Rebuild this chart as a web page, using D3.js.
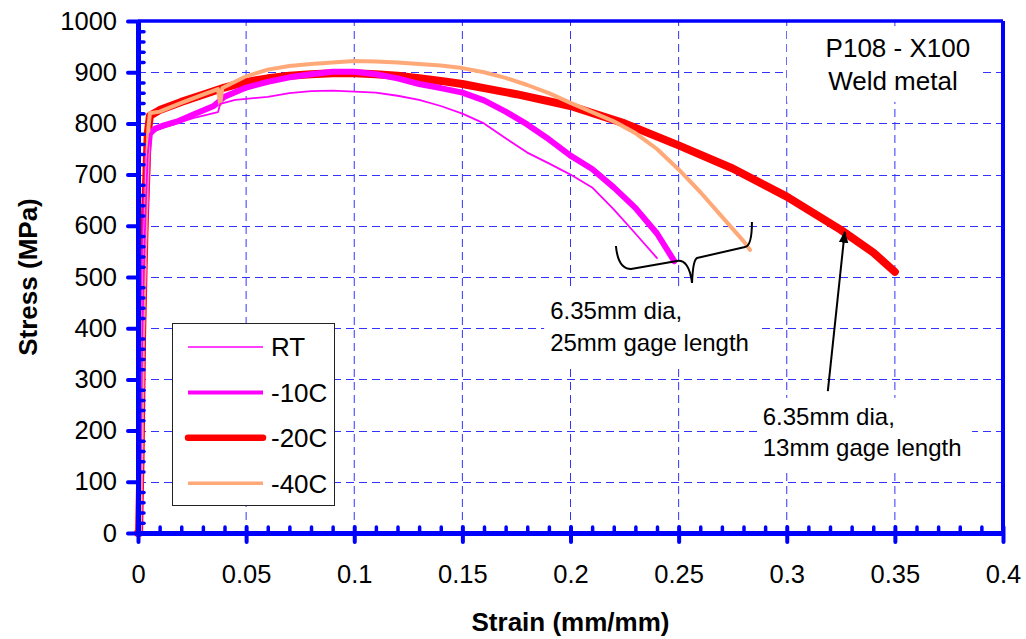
<!DOCTYPE html>
<html><head><meta charset="utf-8">
<script src="https://cdn.jsdelivr.net/npm/d3@7"></script>
<style>body{margin:0;background:#fff}svg{display:block}</style>
</head><body><svg id="c" width="1026" height="639"></svg>
<script>
// ---------- data ----------
const seriesNames = ["RT", "-10C", "-20C", "-40C"];

const rtStrain = [0, 0.0006, 0.0013, 0.002, 0.0032, 0.0045, 0.0055, 0.008, 0.012, 0.02, 0.027, 0.035, 0.037, 0.038, 0.045, 0.05, 0.06, 0.07, 0.08, 0.09, 0.1, 0.11, 0.12, 0.13, 0.14, 0.15, 0.16, 0.17, 0.18, 0.19, 0.2, 0.21, 0.22, 0.23, 0.24];
const rtStress = [0, 0, 150, 390, 590, 740, 780, 786, 792, 803, 812, 820, 822, 838, 846, 848, 852, 859, 863, 864, 862, 860, 854, 846, 834, 819, 800, 771, 743, 722, 700, 675, 632, 585, 537];

const m10Strain = [0, 0.0006, 0.0013, 0.002, 0.0032, 0.0045, 0.0055, 0.008, 0.012, 0.019, 0.027, 0.035, 0.04, 0.05, 0.06, 0.07, 0.08, 0.09, 0.1, 0.11, 0.12, 0.13, 0.14, 0.15, 0.16, 0.17, 0.18, 0.19, 0.2, 0.21, 0.22, 0.23, 0.24, 0.248];
const m10Stress = [0, 0, 150, 390, 590, 740, 780, 790, 796, 805, 820, 834, 852, 870, 881, 890, 896, 901, 901, 896, 888, 877, 869, 860, 845, 823, 798, 769, 737, 711, 675, 635, 585, 531];

const m20Strain = [0, 0.0005, 0.0012, 0.0019, 0.003, 0.0045, 0.0055, 0.01, 0.02, 0.03, 0.04, 0.05, 0.06, 0.07, 0.08, 0.09, 0.1, 0.11, 0.12, 0.13, 0.14, 0.15, 0.16, 0.175, 0.2, 0.225, 0.25, 0.275, 0.3, 0.325, 0.34, 0.35];
const m20Stress = [0, 0, 150, 390, 590, 780, 815, 826, 842, 856, 870, 881, 888, 893, 896, 898, 898, 896, 893, 888, 883, 877, 869, 857, 834, 800, 757, 712, 657, 592, 548, 510];

const m40Strain = [0, 0.0008, 0.0015, 0.0023, 0.0035, 0.0048, 0.0055, 0.01, 0.02, 0.03, 0.037, 0.038, 0.039, 0.05, 0.06, 0.07, 0.08, 0.09, 0.1, 0.11, 0.12, 0.13, 0.14, 0.15, 0.16, 0.17, 0.18, 0.19, 0.2, 0.21, 0.22, 0.23, 0.24, 0.25, 0.26, 0.27, 0.28, 0.283];
const m40Stress = [0, 0, 150, 390, 600, 790, 820, 823, 840, 856, 867, 838, 869, 892, 905, 912, 916, 919, 922, 921, 919, 916, 913, 908, 900, 889, 875, 859, 840, 822, 804, 781, 750, 710, 666, 618, 570, 553];

const xTickVals = [0, 0.05, 0.1, 0.15, 0.2, 0.25, 0.3, 0.35, 0.4];
const xTickLabels = ["0", "0.05", "0.1", "0.15", "0.2", "0.25", "0.3", "0.35", "0.4"];
const yTickVals = [0, 100, 200, 300, 400, 500, 600, 700, 800, 900, 1000];
const yTickLabels = ["0", "100", "200", "300", "400", "500", "600", "700", "800", "900", "1000"];

// annotation anchors (data units)
const braceStrain = [0.2210, 0.2220, 0.2280, 0.2492, 0.2548, 0.2562, 0.2566, 0.2585, 0.2807, 0.2839, 0.2839];
const braceStress = [560.5, 515.6, 515.6, 531.3, 535.2, 488.3, 533.0, 537.1, 558.6, 560.5, 607.4];
const arrowStrain = [0.3190, 0.3268];
const arrowStress = [277, 588];

// ---------- chart ----------
const FONT = "Arial, 'Liberation Sans', sans-serif";
const svg = d3.select("#c").attr("font-family", FONT);
svg.append("rect").attr("width", 1026).attr("height", 639).attr("fill", "#fff");

const x = d3.scaleLinear().domain([0, 0.4]).range([138, 1003]);
const y = d3.scaleLinear().domain([0, 1000]).range([533, 21]);

const gridColor = "#3333ff";
svg.append("g").selectAll("line").data(xTickVals.slice(1, -1)).join("line")
  .attr("x1", d => x(d)).attr("x2", d => x(d)).attr("y1", y(0)).attr("y2", y(1000))
  .attr("stroke", gridColor).attr("stroke-width", 1).attr("stroke-dasharray", "8,5");
svg.append("g").selectAll("line").data(yTickVals.slice(1, -1)).join("line")
  .attr("x1", x(0)).attr("x2", x(0.4)).attr("y1", d => Math.round(y(d)) + 0.5).attr("y2", d => Math.round(y(d)) + 0.5)
  .attr("stroke", gridColor).attr("stroke-width", 1).attr("stroke-dasharray", "8,5");

// white annotation boxes (cover grid)
const boxes = [
  [0.1878, 0.2863, 478, 328],
  [0.2863, 0.3857, 264, 123],
  [0.3001, 0.3907, 988, 842]
];
svg.append("g").selectAll("rect").data(boxes).join("rect")
  .attr("x", d => x(d[0])).attr("width", d => x(d[1]) - x(d[0]))
  .attr("y", d => y(d[2])).attr("height", d => y(d[3]) - y(d[2]))
  .attr("fill", "#fff");

const blue = "#0000ff";
// frame top/right
svg.append("line").attr("x1", x(0)).attr("x2", x(0.4)).attr("y1", y(1000)).attr("y2", y(1000))
  .attr("stroke", blue).attr("stroke-width", 3.5);
svg.append("line").attr("x1", x(0.4)).attr("x2", x(0.4)).attr("y1", y(1000)).attr("y2", y(0))
  .attr("stroke", blue).attr("stroke-width", 4);

// series
const series = [
  { sx: m20Strain, sy: m20Stress, color: "#ff0000", w: 8 },
  { sx: m10Strain, sy: m10Stress, color: "#ff00ff", w: 6 },
  { sx: m40Strain, sy: m40Stress, color: "#ffa878", w: 4 },
  { sx: rtStrain, sy: rtStress, color: "#ff00ff", w: 1.8 }
];
const line = d3.line().x(d => x(d[0])).y(d => y(d[1])).curve(d3.curveLinear);
svg.append("g").selectAll("path").data(series).join("path")
  .attr("d", s => line(s.sx.map((v, i) => [v, s.sy[i]])))
  .attr("fill", "none").attr("stroke", s => s.color).attr("stroke-width", s => s.w)
  .attr("stroke-linejoin", "round").attr("stroke-linecap", "round");

// axes
const ya = svg.append("g").attr("transform", `translate(${x(0)},0)`)
  .call(d3.axisLeft(y).tickValues(yTickVals).tickFormat((d, i) => yTickLabels[i]).tickSize(10).tickSizeOuter(0).tickPadding(11));
ya.attr("font-family", FONT).attr("font-size", 25.5);
ya.select(".domain").attr("stroke", blue).attr("stroke-width", 5);
ya.selectAll(".tick line").attr("stroke", blue).attr("stroke-width", 4).attr("stroke-linecap", "round");
ya.selectAll(".tick text").attr("fill", "#000");

const yMinor = d3.range(20, 1000, 20).filter(v => v % 100 !== 0);
const ym = svg.append("g").attr("transform", `translate(${x(0)},0)`)
  .call(d3.axisRight(y).tickValues(yMinor).tickFormat("").tickSize(6).tickSizeOuter(0));
ym.select(".domain").remove();
ym.selectAll(".tick line").attr("stroke", blue).attr("stroke-width", 3.5).attr("stroke-linecap", "round");

const xa = svg.append("g").attr("transform", `translate(0,${y(0)})`)
  .call(d3.axisBottom(x).tickValues(xTickVals).tickFormat((d, i) => xTickLabels[i]).tickSize(9).tickSizeOuter(0).tickPadding(23));
xa.attr("font-family", FONT).attr("font-size", 25.5);
xa.select(".domain").attr("stroke", blue).attr("stroke-width", 5);
xa.selectAll(".tick line").attr("stroke", blue).attr("stroke-width", 4).attr("stroke-linecap", "round").attr("y1", -6);
xa.selectAll(".tick text").attr("fill", "#000");

const xMinor = d3.range(1, 40).map(v => v / 100).filter(v => Math.round(v * 100) % 5 !== 0);
const xm = svg.append("g").attr("transform", `translate(0,${y(0)})`)
  .call(d3.axisTop(x).tickValues(xMinor).tickFormat("").tickSize(6).tickSizeOuter(0));
xm.select(".domain").remove();
xm.selectAll(".tick line").attr("stroke", blue).attr("stroke-width", 3.5).attr("stroke-linecap", "round");

// axis titles
svg.append("text").attr("x", (x(0) + x(0.4)) / 2).attr("y", 631).attr("text-anchor", "middle")
  .attr("font-weight", "bold").attr("font-size", 26).text("Strain (mm/mm)");
svg.append("text").attr("transform", `translate(37,${(y(0) + y(1000)) / 2}) rotate(-90)`).attr("text-anchor", "middle")
  .attr("font-weight", "bold").attr("font-size", 26).text("Stress (MPa)");

// legend
const lg = svg.append("g");
lg.append("rect").attr("x", 172.5).attr("y", 323.5).attr("width", 162).attr("height", 182)
  .attr("fill", "#fff").attr("stroke", "#222").attr("stroke-width", 1);
const legendStyle = [
  { color: "#ff00ff", w: 1.6 }, { color: "#ff00ff", w: 4 }, { color: "#ff0000", w: 6.5 }, { color: "#ffa878", w: 3.5 }
];
seriesNames.forEach((n, i) => {
  const yy = 347 + i * 45.4;
  lg.append("line").attr("x1", 188).attr("x2", 263).attr("y1", yy).attr("y2", yy)
    .attr("stroke", legendStyle[i].color).attr("stroke-width", legendStyle[i].w).attr("stroke-linecap", i === 2 ? "round" : "butt");
  lg.append("text").attr("x", 271).attr("y", yy).attr("dy", "0.36em").attr("font-size", 26).text(n);
});

// brace
const bp = braceStrain.map((v, i) => [x(v), y(braceStress[i])]);
const bpath = `M${bp[0]} Q${bp[1]} ${bp[2]} L${bp[3]} Q${bp[4]} ${bp[5]} Q${bp[6]} ${bp[7]} L${bp[8]} Q${bp[9]} ${bp[10]}`;
svg.append("path").attr("d", bpath).attr("fill", "none").attr("stroke", "#000").attr("stroke-width", 2);

// arrow
svg.append("defs").append("marker").attr("id", "ah").attr("viewBox", "0 0 10 10").attr("refX", 9).attr("refY", 5)
  .attr("markerWidth", 6).attr("markerHeight", 6).attr("orient", "auto")
  .append("path").attr("d", "M0,1 L10,5 L0,9 Z").attr("fill", "#000");
svg.append("line").attr("x1", x(arrowStrain[0])).attr("y1", y(arrowStress[0]))
  .attr("x2", x(arrowStrain[1])).attr("y2", y(arrowStress[1]))
  .attr("stroke", "#000").attr("stroke-width", 2).attr("marker-end", "url(#ah)");

// annotation texts
const notes = [
  { t: "6.35mm dia,", sx: 0.1906, sy: 417, a: "start", fs: 24 },
  { t: "25mm gage length", sx: 0.1906, sy: 356, a: "start", fs: 24 },
  { t: "6.35mm dia,", sx: 0.2889, sy: 211, a: "start", fs: 24 },
  { t: "13mm gage length", sx: 0.2889, sy: 151, a: "start", fs: 24 },
  { t: "P108 - X100", sx: 0.3514, sy: 930, a: "middle", fs: 26 },
  { t: "Weld metal", sx: 0.3491, sy: 865, a: "middle", fs: 26 }
];
svg.append("g").selectAll("text").data(notes).join("text")
  .attr("x", d => x(d.sx)).attr("y", d => y(d.sy)).attr("text-anchor", d => d.a)
  .attr("font-size", d => d.fs).attr("fill", "#000").text(d => d.t);
</script>
</body></html>
